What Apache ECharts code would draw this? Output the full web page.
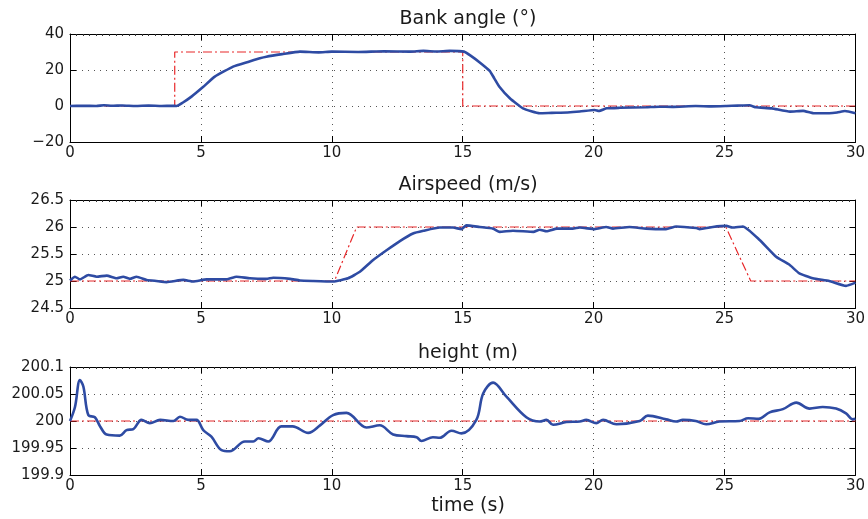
<!DOCTYPE html>
<html>
<head>
<meta charset="utf-8">
<script src="https://cdn.jsdelivr.net/npm/echarts@6/dist/echarts.min.js"></script>
<style>html,body{margin:0;padding:0;background:#fff}#c{width:868px;height:519px}</style>
</head>
<body>
<div id="c"></div>
<script>
// ---------- Data ----------
var titles = ['Bank angle (°)', 'Airspeed (m/s)', 'height (m)'];
var xLabel = 'time (s)';

// Bank angle
var bankT = [0,0.5,1,1.3,1.6,2,2.5,3,3.5,3.9,4.07,4.3,4.64,5.08,5.53,6.23,6.8,7.25,7.5,8.1,8.78,9.5,10,11,12,13,13.5,14,14.5,15.05,15.3,15.65,16.03,16.2,16.4,16.8,17.3,17.94,18.4,19,19.47,20.04,20.2,20.5,21,22,22.5,23,23.9,24.5,25.07,25.5,25.95,26.2,26.8,27.5,28,28.4,29,29.3,29.6,30];
var bankV = [0,0.1,0,0.4,0.1,0.3,0,0.2,0,0.1,0,1.8,5.2,10.5,16.3,21.9,24.5,26.5,27.4,28.8,30.2,29.8,30.2,30,30.4,30.2,30.6,30.3,30.6,30.2,28.0,24.2,19.5,15.5,10.7,4.3,-1.3,-4,-3.8,-3.6,-3.1,-2.2,-2.8,-1.3,-1.0,-0.7,-0.4,-0.5,0,-0.2,0,0.2,0.4,-0.7,-1.3,-3.1,-2.7,-4,-4,-3.6,-2.8,-4];
var bankRefT = [0,4,4,15,15,30];
var bankRefV = [0,0,30,30,0,0];

// Airspeed
var speedT = [0,0.19,0.38,0.7,1.02,1.4,1.78,2.03,2.29,2.54,2.93,3.3,3.69,4.33,4.7,5.22,5.98,6.36,6.87,7.5,7.76,8.4,8.78,9.29,10.05,10.62,11.07,11.58,12.09,12.6,13.1,13.5,14.12,14.63,14.95,15.14,15.65,16.16,16.41,16.92,17.7,17.94,18.2,18.6,19.2,19.47,20.04,20.48,20.74,21.37,22.0,22.77,23.15,23.92,24.05,24.55,25.07,25.3,25.7,26.34,26.97,27.48,27.86,28.37,29.0,29.64,30];
var speedV = [25.01,25.08,25.03,25.11,25.08,25.1,25.05,25.08,25.04,25.08,25.02,25.0,24.98,25.02,24.99,25.03,25.03,25.08,25.05,25.04,25.06,25.04,25.01,25.0,24.99,25.05,25.17,25.39,25.57,25.74,25.88,25.93,25.99,25.99,25.96,26.03,26.0,25.97,25.91,25.93,25.91,25.95,25.92,25.97,25.97,25.99,25.96,26.0,25.97,26.0,25.97,25.96,26.01,25.98,25.96,26.0,26.02,25.99,26.01,25.76,25.45,25.3,25.14,25.05,25.0,24.91,24.97];
var speedRefT = [0,10.1,10.95,25.05,26.0,30];
var speedRefV = [25,25,26,26,25,25];

// Height
var heightT = [0,0.19,0.38,0.51,0.7,0.95,1.15,1.4,1.9,2.16,2.42,2.73,3.05,3.44,3.95,4.2,4.52,4.83,5.09,5.4,5.79,6.1,6.68,7.0,7.2,7.57,8.07,8.5,9.1,9.55,10.05,10.56,11.32,11.83,12.34,12.85,13.24,13.42,13.86,14.12,14.57,14.95,15.52,15.78,16.16,16.67,17.43,17.94,18.2,18.45,18.96,19.47,19.72,20.1,20.36,20.87,21.76,22.07,22.77,23.15,23.41,23.9,24.3,24.8,25.57,25.9,26.3,26.72,27.23,27.74,28.25,28.75,29.26,29.64,29.9,30];
var heightV = [200.0,200.026,200.076,200.064,200.011,200.007,199.99,199.975,199.973,199.983,199.985,200.002,199.996,200.002,200.0,200.008,200.002,200.002,199.983,199.971,199.946,199.944,199.962,199.962,199.968,199.962,199.99,199.99,199.978,199.992,200.011,200.015,199.988,199.992,199.975,199.972,199.97,199.963,199.97,199.969,199.982,199.977,200.002,200.051,200.071,200.045,200.007,199.999,200.002,199.993,199.998,199.999,200.002,199.996,200.002,199.994,200.0,200.01,200.003,199.999,200.002,200.0,199.994,199.999,200.0,200.005,200.004,200.016,200.022,200.034,200.023,200.026,200.023,200.014,200.003,200.004];
var heightRefT = [0,30];
var heightRefV = [200,200];

// Axis ranges / ticks
var xTicks = {min: 0, max: 30, interval: 5};
var yAxesSpec = [
  {min: -20, max: 40, interval: 20},
  {min: 24.5, max: 26.5, interval: 0.5},
  {min: 199.9, max: 200.1, interval: 0.05}
];

// ---------- Build ----------
function pairs(t, v) { return t.map(function (x, i) { return [x, v[i]]; }); }

var FONT = 'DejaVu Sans';
var TXT = '#1a1a1a';
var grids = [
  {left: 70, top: 34, width: 786, height: 108},
  {left: 70, top: 200, width: 786, height: 108},
  {left: 70, top: 367, width: 786, height: 108}
];
var titleTops = [5, 171, 339];

var xAxes = [], yAxes = [], series = [], titleArr = [];
var gridLine = {show: true, lineStyle: {color: '#555', width: 1, type: [1, 5]}};
var axisLine = {show: true, onZero: false, lineStyle: {color: '#000', width: 1}};

function fmtY(v) {
  var s = String(+(+v).toFixed(2));
  return s.replace('-', '\u2212');
}

var refData = [pairs(bankRefT, bankRefV), pairs(speedRefT, speedRefV), pairs(heightRefT, heightRefV)];
var mainData = [pairs(bankT, bankV), pairs(speedT, speedV), pairs(heightT, heightV)];

for (var g = 0; g < 3; g++) {
  var ys = yAxesSpec[g];
  xAxes.push({
    gridIndex: g, type: 'value', position: 'bottom', min: xTicks.min, max: xTicks.max, interval: xTicks.interval,
    axisLine: axisLine,
    axisTick: {show: true, inside: true, length: 6, lineStyle: {color: '#000'}},
    axisLabel: {fontSize: 15, color: TXT, fontFamily: FONT, margin: 4},
    splitLine: gridLine
  });
  xAxes.push({
    gridIndex: g, type: 'value', position: 'top', min: xTicks.min, max: xTicks.max, interval: xTicks.interval,
    axisLine: axisLine,
    axisTick: {show: true, inside: true, length: 6, lineStyle: {color: '#000'}},
    minorTick: {show: true, splitNumber: 20, length: 2, lineStyle: {color: '#333'}},
    axisLabel: {show: false},
    splitLine: {show: false}
  });
  yAxes.push({
    gridIndex: g, type: 'value', position: 'left', min: ys.min, max: ys.max, interval: ys.interval,
    axisLine: axisLine,
    axisTick: {show: true, inside: true, length: 6, lineStyle: {color: '#000'}},
    axisLabel: {fontSize: 15, color: TXT, fontFamily: FONT, margin: 6, formatter: fmtY},
    splitLine: gridLine
  });
  yAxes.push({
    gridIndex: g, type: 'value', position: 'right', min: ys.min, max: ys.max, interval: ys.interval,
    axisLine: axisLine,
    axisTick: {show: true, inside: true, length: 6, lineStyle: {color: '#000'}},
    axisLabel: {show: false},
    splitLine: {show: false}
  });
  series.push({
    type: 'line', xAxisIndex: g * 2, yAxisIndex: g * 2, data: refData[g],
    showSymbol: false, symbol: 'none', z: 2, animation: false,
    lineStyle: {color: '#e8282a', width: 1.2, type: [9, 3, 2, 3]}
  });
  series.push({
    type: 'line', xAxisIndex: g * 2, yAxisIndex: g * 2, data: mainData[g],
    showSymbol: false, symbol: 'none', z: 3, animation: false, smooth: g === 2 ? 0.35 : 0.15,
    lineStyle: {color: '#2e4ba3', width: 2.6}
  });
  titleArr.push({
    text: titles[g], left: 463, top: titleTops[g], textAlign: 'center',
    textStyle: {fontSize: 19, fontWeight: 'normal', color: TXT, fontFamily: FONT}
  });
}
titleArr.push({
  text: xLabel, left: 463, top: 492, textAlign: 'center',
  textStyle: {fontSize: 19, fontWeight: 'normal', color: TXT, fontFamily: FONT}
});

var chart = echarts.init(document.getElementById('c'), null, {renderer: 'canvas'});
chart.setOption({
  animation: false,
  backgroundColor: '#fff',
  title: titleArr,
  grid: grids,
  xAxis: xAxes,
  yAxis: yAxes,
  series: series
});
</script>
</body>
</html>
